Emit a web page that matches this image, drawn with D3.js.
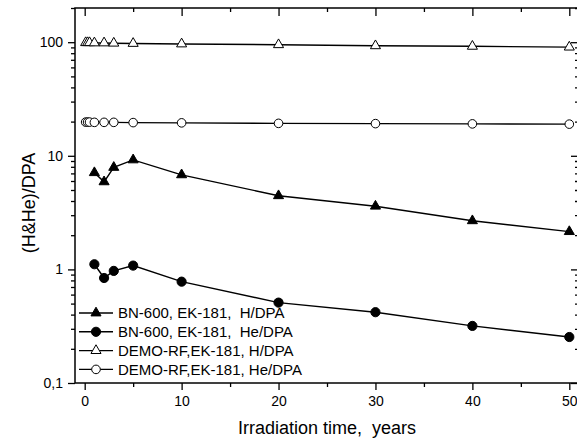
<!DOCTYPE html>
<html>
 <head>
  <meta charset="utf-8">
  <title>(H&amp;He)/DPA vs irradiation time</title>
  <script src="https://cdnjs.cloudflare.com/ajax/libs/d3/7.8.5/d3.min.js"></script>
  <style>
    body { margin: 0; background: #fff; }
    text { font-family: "Liberation Sans", Arial, sans-serif; fill: #000; white-space: pre; }
  </style>
 </head>
 <body>
  <div id="chart"></div>
  <script>
    // data
    var bnYears = [1, 2, 3, 5, 10, 20, 30, 40, 50];
    var bnH  = [7.1, 5.9, 7.9, 9.2, 6.8, 4.45, 3.6, 2.68, 2.15];
    var bnHe = [1.11, 0.84, 0.97, 1.08, 0.78, 0.51, 0.42, 0.318, 0.254];

    var demoYears = [0.1, 0.3, 0.5, 1, 2, 3, 5, 10, 20, 30, 40, 50];
    var demoH  = [99, 99, 99, 98.5, 98.5, 98, 97.5, 96.5, 95, 93, 92, 90.5];
    var demoHe = [19.8, 19.8, 19.8, 19.7, 19.7, 19.7, 19.6, 19.5, 19.3, 19.2, 19.1, 19.0];

    var xMajor = [0, 10, 20, 30, 40, 50];
    var xMinor = [5, 15, 25, 35, 45];
    var yMajor = [0.1, 1, 10, 100];
    var yMinor = [0.2, 0.3, 0.4, 0.5, 0.6, 0.7, 0.8, 0.9,
                  2, 3, 4, 5, 6, 7, 8, 9,
                  20, 30, 40, 50, 60, 70, 80, 90, 200];

    var legendLabels = ["BN-600, EK-181,  H/DPA", "BN-600, EK-181,  He/DPA",
                        "DEMO-RF,EK-181, H/DPA", "DEMO-RF,EK-181, He/DPA"];

    var width = 577, height = 443;
    var plotL = 75, plotR = 579, plotT = 8, plotB = 383;

    var svg = d3.select("#chart").append("svg")
                .attr("width", width)
                .attr("height", height);

    var x = d3.scaleLinear().domain([-1, 51]).range([plotL, plotR]);
    var y = d3.scaleLog().domain([0.1, 200]).range([plotB, plotT]);

    function styleAxis(g) {
      g.select(".domain").remove();
      g.selectAll(".tick line").attr("stroke", "#000").attr("stroke-width", 1.3);
      g.selectAll("text").style("font-size", "14px")
       .style("font-family", "'Liberation Sans', Arial, sans-serif");
    }

    // bottom axis (ticks out)
    svg.append("g").attr("transform", "translate(0," + plotB + ")")
       .call(d3.axisBottom(x).tickValues(xMajor).tickSize(7).tickPadding(6))
       .call(styleAxis);
    svg.append("g").attr("transform", "translate(0," + plotB + ")")
       .call(d3.axisBottom(x).tickValues(xMinor).tickSize(4).tickFormat(""))
       .call(styleAxis);

    // top axis (ticks in)
    svg.append("g").attr("transform", "translate(0," + plotT + ")")
       .call(d3.axisBottom(x).tickValues(xMajor).tickSize(8).tickFormat(""))
       .call(styleAxis);
    svg.append("g").attr("transform", "translate(0," + plotT + ")")
       .call(d3.axisBottom(x).tickValues(xMinor).tickSize(4).tickFormat(""))
       .call(styleAxis);

    // left axis (ticks out)
    svg.append("g").attr("transform", "translate(" + plotL + ",0)")
       .call(d3.axisLeft(y).tickValues(yMajor).tickSize(7).tickPadding(5)
               .tickFormat(function(d) { return d === 0.1 ? "0,1" : d; }))
       .call(styleAxis);
    svg.append("g").attr("transform", "translate(" + plotL + ",0)")
       .call(d3.axisLeft(y).tickValues(yMinor).tickSize(4).tickFormat(""))
       .call(styleAxis);

    // right axis (ticks in)
    svg.append("g").attr("transform", "translate(" + plotR + ",0)")
       .call(d3.axisLeft(y).tickValues(yMajor).tickSize(8).tickFormat(""))
       .call(styleAxis);
    svg.append("g").attr("transform", "translate(" + plotR + ",0)")
       .call(d3.axisLeft(y).tickValues(yMinor).tickSize(4).tickFormat(""))
       .call(styleAxis);

    // frame
    svg.append("rect")
       .attr("x", plotL).attr("y", plotT)
       .attr("width", plotR - plotL).attr("height", plotB - plotT)
       .attr("fill", "none").attr("stroke", "#000").attr("stroke-width", 1.5);

    var series = [
      { xs: bnYears,   ys: bnH,    shape: "tri",    fill: "#000" },
      { xs: bnYears,   ys: bnHe,   shape: "circle", fill: "#000" },
      { xs: demoYears, ys: demoH,  shape: "tri",    fill: "#fff" },
      { xs: demoYears, ys: demoHe, shape: "circle", fill: "#fff" }
    ];

    var line = d3.line()
                 .x(function(d) { return x(d[0]); })
                 .y(function(d) { return y(d[1]); });

    var tri = d3.symbol().type(d3.symbolTriangle).size(44);

    function drawMarker(g, shape, fill, cx, cy) {
      if (shape === "tri") {
        g.append("path").attr("d", tri())
         .attr("transform", "translate(" + cx + "," + cy + ")")
         .attr("fill", fill).attr("stroke", "#000").attr("stroke-width", 1);
      } else {
        g.append("circle").attr("cx", cx).attr("cy", cy)
         .attr("r", fill === "#000" ? 4.6 : 4.3)
         .attr("fill", fill).attr("stroke", "#000").attr("stroke-width", 1);
      }
    }

    series.forEach(function(s) {
      var pts = s.xs.map(function(v, i) { return [v, s.ys[i]]; });
      svg.append("path").datum(pts)
         .attr("d", line)
         .attr("fill", "none").attr("stroke", "#000").attr("stroke-width", 1.4);
      var g = svg.append("g");
      pts.forEach(function(p) { drawMarker(g, s.shape, s.fill, x(p[0]), y(p[1])); });
    });

    // legend
    var leg = svg.append("g");
    series.forEach(function(s, i) {
      var ly = 313 + i * 18.8;
      leg.append("line").attr("x1", 79).attr("x2", 113)
         .attr("y1", ly).attr("y2", ly)
         .attr("stroke", "#000").attr("stroke-width", 1.4);
      drawMarker(leg, s.shape, s.fill, 96, ly);
      leg.append("text").attr("x", 118).attr("y", ly)
         .attr("dy", "0.36em").style("font-size", "15px")
         .text(legendLabels[i]);
    });

    // axis titles
    svg.append("text")
       .attr("x", 327).attr("y", 428).attr("dy", "0.36em")
       .attr("text-anchor", "middle").style("font-size", "18px")
       .text("Irradiation time,  years");

    svg.append("text")
       .attr("transform", "translate(29,203) rotate(-90)")
       .attr("dy", "0.36em")
       .attr("text-anchor", "middle").style("font-size", "18px")
       .text("(H&He)/DPA");
  </script>
 </body>
</html>
